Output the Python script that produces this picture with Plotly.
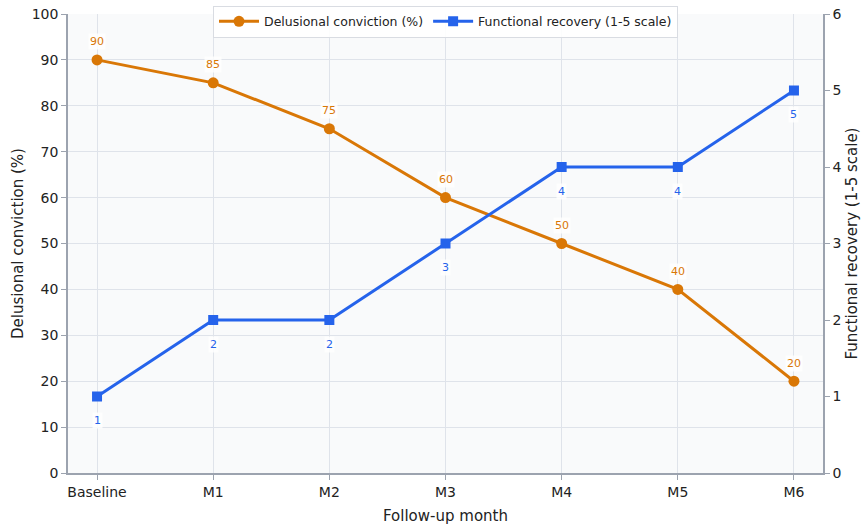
import plotly.graph_objects as go

months = ["Baseline", "M1", "M2", "M3", "M4", "M5", "M6"]
delusional = [90, 85, 75, 60, 50, 40, 20]
functional = [1, 2, 2, 3, 4, 4, 5]

ORANGE = "#d97706"
BLUE = "#2563eb"
FONT = "DejaVu Sans"

fig = go.Figure()
fig.add_trace(go.Scatter(
    x=months, y=delusional, name="Delusional conviction (%)",
    mode="lines+markers", line=dict(color=ORANGE, width=3),
    marker=dict(symbol="circle", size=11, color=ORANGE), yaxis="y"))
fig.add_trace(go.Scatter(
    x=months, y=functional, name="Functional recovery (1-5 scale)",
    mode="lines+markers", line=dict(color=BLUE, width=3),
    marker=dict(symbol="square", size=10, color=BLUE), yaxis="y2"))

annotations = []
for m, v in zip(months, delusional):
    annotations.append(dict(x=m, y=v, xref="x", yref="y", text=str(v),
                            showarrow=False, yshift=18, bgcolor="rgba(255,255,255,0.8)",
                            borderpad=1, font=dict(color=ORANGE, size=11, family=FONT)))
for m, v in zip(months, functional):
    annotations.append(dict(x=m, y=v, xref="x", yref="y2", text=str(v),
                            showarrow=False, yshift=-24, bgcolor="rgba(255,255,255,0.8)",
                            borderpad=1, font=dict(color=BLUE, size=11, family=FONT)))

axis_line = "#9ca3af"
grid = "#dfe3ea"
fig.update_layout(
    width=861, height=529,
    margin=dict(l=68, r=38, t=14, b=56, autoexpand=False),
    paper_bgcolor="white", plot_bgcolor="#f9fafb",
    font=dict(family=FONT, size=14, color="#222222"),
    showlegend=True,
    legend=dict(orientation="h", x=0.5, xanchor="center", y=1.018, yanchor="top",
                bgcolor="rgba(255,255,255,0.9)", bordercolor="#d9dce2", borderwidth=1,
                font=dict(size=12.5, family=FONT), itemwidth=40),
    xaxis=dict(title=dict(text="Follow-up month", font=dict(size=15), standoff=12),
               range=[-0.25, 6.25], showline=True, linecolor=axis_line, linewidth=1.5,
               ticks="outside", tickcolor=axis_line, ticklen=5, automargin=False,
               showgrid=True, gridcolor=grid, zeroline=False),
    yaxis=dict(title=dict(text="Delusional conviction (%)", font=dict(size=15), standoff=4),
               range=[0, 100], dtick=10, showline=True, linecolor=axis_line, linewidth=1.5,
               ticks="outside", tickcolor=axis_line, ticklen=5, automargin=False,
               showgrid=True, gridcolor=grid, zeroline=False),
    yaxis2=dict(title=dict(text="Functional recovery (1-5 scale)", font=dict(size=15), standoff=14),
                range=[0, 6], dtick=1, overlaying="y", side="right",
                showline=True, linecolor=axis_line, linewidth=1.5,
                ticks="outside", tickcolor=axis_line, ticklen=5, automargin=False,
                showgrid=False, zeroline=False),
    annotations=annotations,
)

fig.write_html("out.html", config={"displayModeBar": False},
               post_script="document.body.style.margin='0';")
